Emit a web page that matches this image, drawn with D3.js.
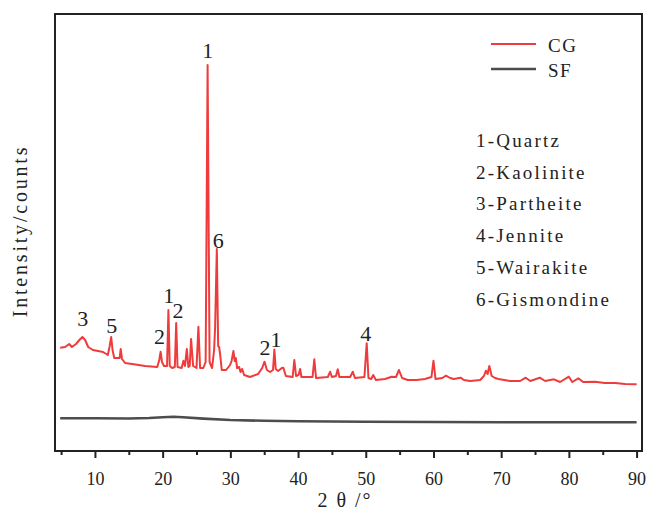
<!DOCTYPE html>
<html><head><meta charset="utf-8">
<script src="https://cdn.jsdelivr.net/npm/d3@7"></script>
<style>body{margin:0;background:#fff}</style>
</head><body>
<svg id="c" width="646" height="510"></svg>
<script>
// 2θ (degrees), intensity (arbitrary counts)
const cgData = [[4.86,1033],[5.6,1040],[6.2,1070],[6.6,1040],[7.2,1070],[7.7,1110],[8.15,1140],[8.55,1110],[9.0,1040],[9.7,1010],[11.2,990],[11.9,960],[12.15,1040],[12.4,1140],[12.6,1010],[12.85,930],[13.65,930],[13.8,1020],[14.0,920],[14.45,880],[15.5,870],[17.4,850],[19.2,840],[19.5,910],[19.7,993],[19.9,890],[20.2,850],[20.65,850],[20.85,1410],[21.05,850],[21.4,830],[21.8,840],[22.0,1280],[22.2,840],[22.8,830],[23.07,903],[23.3,850],[23.57,1020],[23.8,840],[24.0,850],[24.2,1120],[24.5,850],[25.0,830],[25.28,1243],[25.53,830],[26.0,830],[26.35,890],[26.64,3860],[26.93,890],[27.3,830],[27.6,1010],[27.75,1240],[28.0,2020],[28.2,1050],[28.34,1040],[28.5,960],[28.73,810],[29.37,810],[29.96,860],[30.18,900],[30.45,1000],[30.65,900],[30.8,930],[31.0,830],[31.3,840],[31.5,790],[31.74,820],[32.03,760],[32.9,740],[34.1,770],[34.7,830],[35.05,893],[35.4,810],[35.87,790],[36.3,810],[36.5,1015],[36.7,820],[37.05,800],[37.6,830],[37.83,833],[38.2,750],[39.2,740],[39.45,910],[39.7,750],[40.07,760],[40.3,820],[40.5,740],[42.14,740],[42.4,917],[42.66,730],[44.4,740],[44.74,793],[45.0,740],[45.6,750],[45.86,817],[46.1,740],[47.7,740],[48.08,793],[48.4,730],[49.8,740],[50.14,1077],[50.4,730],[50.8,720],[51.1,760],[51.5,710],[52.85,720],[53.83,743],[54.47,740],[54.9,810],[55.36,730],[56.2,710],[57.5,710],[58.75,720],[59.7,740],[60.0,903],[60.3,720],[61.3,730],[61.86,753],[62.45,730],[63.0,720],[64.0,733],[64.5,710],[65.4,700],[66.9,710],[67.45,750],[67.75,803],[68.0,770],[68.25,850],[68.6,750],[69.1,730],[69.6,720],[71.3,700],[72.8,700],[73.62,733],[74.3,700],[75.7,733],[76.5,700],[77.8,717],[78.7,690],[80.0,743],[80.5,690],[81.4,727],[82.1,690],[83.86,693],[85.3,680],[86.8,680],[88.3,670],[90.0,667]];
const sfData = [[4.86,327],[10,327],[15,325],[18,330],[20,338],[21.6,343],[23,337],[26,324],[30,310],[35,302],[40,297],[50,292],[60,290],[70,288],[80,287],[90,287]];
const seriesNames = ["CG","SF"];
const xTicks = [10,20,30,40,50,60,70,80,90];
const xMinorTicks = [5,15,25,35,45,55,65,75,85];
const phaseNames = ["1-Quartz","2-Kaolinite","3-Partheite","4-Jennite","5-Wairakite","6-Gismondine"];
// peak labels: text, 2θ, intensity where label sits
const peakLabels = [["1",26.67,3930],["6",28.23,2030],["3",8.21,1250],["5",12.49,1180],["2",19.52,1070],["1",20.9,1483],["2",22.25,1333],["2",35.1,960],["1",36.75,1043],["4",50.0,1100]];

const svg = d3.select("#c");
const L=55,R=642,T=14,B=451;
const x = d3.scaleLinear().domain([4.1,90.8]).range([L,R]);
const y = d3.scaleLinear().domain([0,4370]).range([B,T]);
const colors = {CG:"#ef3b3b", SF:"#4d4d4d"};
const serif = "Liberation Serif";

const line = d3.line().x(d=>x(d[0])).y(d=>y(d[1]));
svg.append("path").datum(sfData).attr("d",line).attr("fill","none").attr("stroke",colors.SF).attr("stroke-width",2.6);
svg.append("path").datum(cgData).attr("d",line).attr("fill","none").attr("stroke",colors.CG).attr("stroke-width",2).attr("stroke-linejoin","round");

// axis
const ax = svg.append("g").attr("transform",`translate(0,${B})`)
  .call(d3.axisBottom(x).tickValues(xTicks).tickSize(7).tickSizeOuter(0).tickFormat(d3.format("d")));
ax.attr("font-family",serif).attr("font-size",18);
ax.select(".domain").remove();
ax.selectAll("line").attr("stroke","#222").attr("stroke-width",2);
ax.selectAll("text").style("font-family",serif).style("font-size","18px").attr("fill","#222").attr("dy","1.35em");
const axm = svg.append("g").attr("transform",`translate(0,${B})`)
  .call(d3.axisBottom(x).tickValues(xMinorTicks).tickSize(4).tickFormat(""));
axm.select(".domain").remove();
axm.selectAll("line").attr("stroke","#222").attr("stroke-width",2);

svg.append("rect").attr("x",L).attr("y",T).attr("width",R-L).attr("height",B-T)
  .attr("fill","none").attr("stroke","#222").attr("stroke-width",2);

svg.append("text").attr("x",345).attr("y",507).attr("text-anchor","middle")
  .style("font-family",serif).style("font-size","20px").style("letter-spacing","2px").attr("fill","#222").text("2 θ /°");
svg.append("text").attr("transform","translate(27,231) rotate(-90)").attr("text-anchor","middle")
  .style("font-family",serif).style("font-size","20px").style("letter-spacing","2.8px").attr("fill","#222").text("Intensity/counts");

// peak labels
svg.append("g").selectAll("text").data(peakLabels).join("text")
  .attr("x",d=>x(d[1])).attr("y",d=>y(d[2])).attr("text-anchor","middle")
  .style("font-family",serif).style("font-size","22px").attr("fill","#222").text(d=>d[0]);

// legend
const lg = svg.append("g");
seriesNames.forEach((n,i)=>{
  const yy = 44 + i*25;
  lg.append("line").attr("x1",491).attr("x2",536).attr("y1",yy).attr("y2",yy)
    .attr("stroke",colors[n]).attr("stroke-width",n==="SF"?2.6:2);
  lg.append("text").attr("x",548).attr("y",yy+8).style("font-family",serif).style("font-size","19px").style("letter-spacing","1.5px").attr("fill","#222").text(n);
});
phaseNames.forEach((p,i)=>{
  lg.append("text").attr("x",476).attr("y",147+i*31.7).style("font-family",serif).style("font-size","19px").style("letter-spacing","2.2px").attr("fill","#222").text(p);
});
</script>
</body></html>
